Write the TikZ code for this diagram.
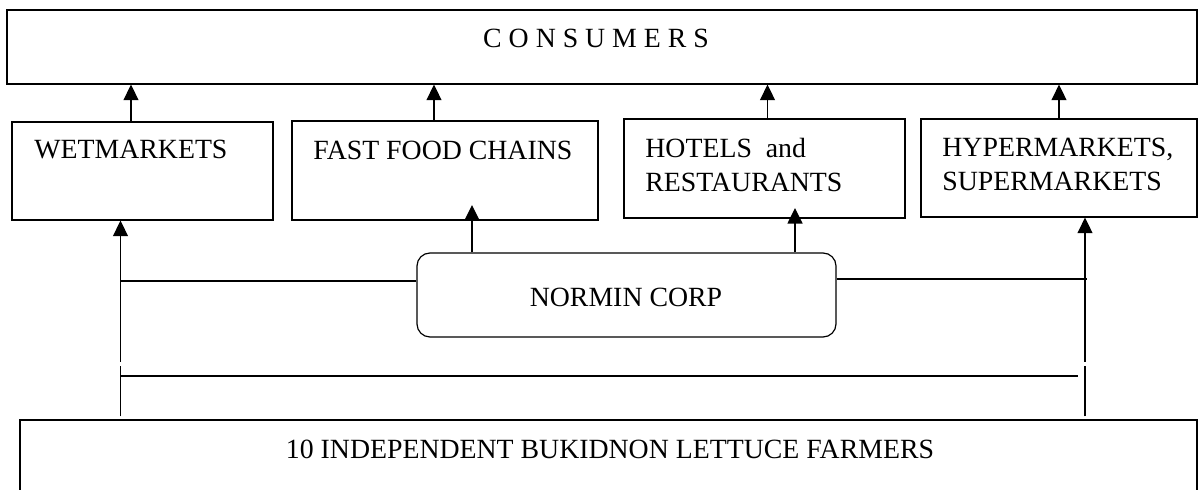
\documentclass[tikz,border=0pt]{standalone}
\usepackage{fontspec}
\setmainfont{Liberation Serif}
\usetikzlibrary{arrows.meta}

\tikzset{
  box/.style={draw, line width=0.6pt, inner sep=0pt},
  lbl/.style={inner sep=0pt, align=left, font=\fontsize{13.9pt}{17pt}\selectfont},
  link/.style={line width=0.65pt},
  flow/.style={link, -{Triangle[length=7.8pt,width=7.5pt]}}
}

\begin{document}
\begin{tikzpicture}[x=0.5pt, y=-0.5pt]
        \clip (0,0) rectangle (1198,490);
        % outlets and consumers
        \node[box, minimum width=595pt, minimum height=37pt] (cons) at (602,47) {};
        \node[box, minimum width=130.5pt, minimum height=49pt] (wet) at (142.5,171) {};
        \node[box, minimum width=153pt, minimum height=49.5pt] (fast) at (445,170.5) {};
        \node[box, minimum width=140.5pt, minimum height=49.5pt] (hotel) at (764.5,168.5) {};
        \node[box, minimum width=138pt, minimum height=49pt] (hyper) at (1059,168) {};
        \node[box, rounded corners=6.5pt, minimum width=209.5pt, minimum height=42pt] (normin) at (626.5,295) {};
        \node[box, minimum width=588.5pt, minimum height=60pt] (farmers) at (608.5,480) {};

        \node[lbl] (constext) at (596,38) {C O N S U M E R S};
        \node[lbl, anchor=west] (wettext) at (34,150) {WETMARKETS};
        \node[lbl, anchor=west] (fasttext) at (313,150) {FAST FOOD CHAINS};
        \node[lbl, anchor=west] (hoteltext) at (645,165) {HOTELS\ \ and\\RESTAURANTS};
        \node[lbl, anchor=west] (hypertext) at (942,164) {HYPERMARKETS,\\SUPERMARKETS};
        \node[lbl] (normintext) at (626,297) {NORMIN CORP};
        \node[lbl] (farmertext) at (610,449) {10 INDEPENDENT BUKIDNON LETTUCE FARMERS};

        % to consumers
        \draw[flow] (wet.north -| 131,0) -- (cons.south -| 131,0);
        \draw[flow] (fast.north -| 434,0) -- (cons.south -| 434,0);
        \draw[flow] (hotel.north -| 767.5,0) -- (cons.south -| 767.5,0);
        \draw[flow] (hyper.north -| 1059,0) -- (cons.south -| 1059,0);

        % from the farmers
        \coordinate (wbrk) at (120.5,364);
        \coordinate (hbrk) at (1085,364);
        \draw[link, shorten >=1pt] ([yshift=1.5pt]farmers.north -| wbrk) -- (wbrk);
        \draw[flow, shorten <=1pt] (wbrk) -- (wet.south -| wbrk);
        \draw[link, shorten >=1pt] ([yshift=1.5pt]farmers.north -| hbrk) -- (hbrk);
        \draw[flow, shorten <=1pt] (hbrk) -- (hyper.south -| hbrk);

        \coordinate (wjoin) at (120.5,281);
        \coordinate (hjoin) at (1087,279);
        \coordinate (wlow) at (120.5,376);
        \coordinate (hlow) at (1078,376);
        \draw[link] (wjoin) -- (normin.west |- wjoin);
        \draw[link] (normin.east |- hjoin) -- (hjoin);
        \draw[link] (wlow) -- (hlow);

        % from normin
        \coordinate (fasttip) at (472,205);
        \coordinate (hoteltip) at (795,208);
        \draw[flow] (normin.north -| fasttip) -- (fasttip);
        \draw[flow] (normin.north -| hoteltip) -- (hoteltip);
\end{tikzpicture}
\end{document}
